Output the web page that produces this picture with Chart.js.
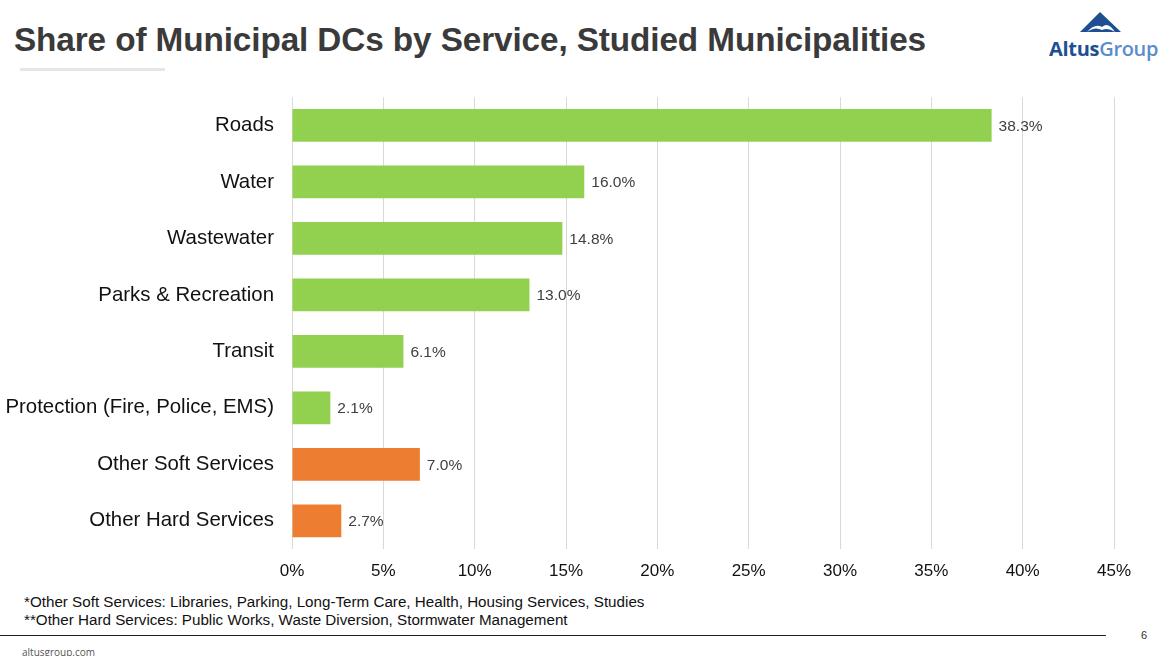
<!DOCTYPE html>
<html><head><meta charset="utf-8">
<script src="https://cdn.jsdelivr.net/npm/chart.js@4"></script>
<style>
html,body{margin:0;padding:0;background:#fff;width:1168px;height:656px;overflow:hidden;font-family:"Liberation Sans",Arial,sans-serif;}
#title{position:absolute;left:14px;top:21px;font-size:33.3px;font-weight:bold;color:#3a3a3a;white-space:nowrap;letter-spacing:-0.1px}
#uline{position:absolute;left:20px;top:68px;width:145px;height:3px;background:#e6e6e6}
#wrap{position:absolute;left:0;top:67px;width:1168px;height:523px}
.note{position:absolute;left:24px;font-size:15.2px;color:#111;white-space:nowrap}
#rule{position:absolute;left:0;top:635px;width:1106px;height:1px;background:#222}
#pg{position:absolute;left:1141px;top:629px;font-size:11px;color:#333}
#site{position:absolute;left:22px;top:645px;font-size:10px;color:#555;font-family:"Open Sans",sans-serif}
#logo{position:absolute;left:1040px;top:8px}
#logotext{position:absolute;left:1049px;top:35px;font-size:20px;white-space:nowrap;font-family:"Open Sans",sans-serif;letter-spacing:-0.3px}
</style></head><body>
<div id="title">Share of Municipal DCs by Service, Studied Municipalities</div>
<div id="uline"></div>
<svg id="logo" width="120" height="30" viewBox="0 0 120 30">
  <polygon points="60,4 40,24 81,24" fill="#1d4f91"/>
  <path d="M47,24 Q55,15 62,19 Q68,13 75,24 Q68,19 62,22 Q55,18 47,24 Z" fill="#fff"/>
</svg>
<div id="logotext"><span style="color:#1d4f91;font-weight:bold">Altus</span><span style="color:#5b8ccc;font-weight:600">Group</span></div>
<div id="wrap"><canvas id="c"></canvas></div>
<div class="note" style="top:593px">*Other Soft Services: Libraries, Parking, Long-Term Care, Health, Housing Services, Studies</div>
<div class="note" style="top:611px">**Other Hard Services: Public Works, Waste Diversion, Stormwater Management</div>
<div id="rule"></div>
<div id="pg">6</div>
<div id="site">altusgroup.com</div>
<script>
const categories = ["Roads","Water","Wastewater","Parks & Recreation","Transit","Protection (Fire, Police, EMS)","Other Soft Services","Other Hard Services"];
const shares = [38.3,16.0,14.8,13.0,6.1,2.1,7.0,2.7];
const barColors = ["#92d050","#92d050","#92d050","#92d050","#92d050","#92d050","#ed7d31","#ed7d31"];
const xTicks = [0,5,10,15,20,25,30,35,40,45];

const labelPlugin = {
  id:'vals',
  afterDatasetsDraw(chart){
    const ctx = chart.ctx;
    const meta = chart.getDatasetMeta(0);
    ctx.save();
    ctx.font = '15.5px "Liberation Sans", Arial, sans-serif';
    ctx.fillStyle = '#404040';
    ctx.textBaseline = 'middle';
    ctx.textAlign = 'left';
    meta.data.forEach((bar,i)=>{
      ctx.fillText(shares[i].toFixed(1)+'%', bar.x+7, bar.y+1);
    });
    ctx.restore();
  }
};

new Chart(document.getElementById('c'),{
  type:'bar',
  data:{labels:categories,datasets:[{data:shares,backgroundColor:barColors,barPercentage:0.58,categoryPercentage:1}]},
  options:{
    indexAxis:'y',responsive:true,maintainAspectRatio:false,animation:false,
    layout:{padding:{top:0,right:54,left:0,bottom:0}},
    plugins:{legend:{display:false},tooltip:{enabled:false}},
    scales:{
      x:{min:0,max:45,
        afterBuildTicks(s){s.ticks = xTicks.map(v=>({value:v}));},
        afterFit(s){s.height=41;},
        grid:{color:'#d9d9d9',lineWidth:1,drawTicks:false},
        border:{display:false},
        ticks:{padding:12,color:'#111',font:{size:17,family:'"Liberation Sans", Arial, sans-serif'},callback:v=>v+'%'}
      },
      y:{
        afterFit(s){s.width=292;},
        grid:{display:false,drawTicks:false},
        border:{display:false},
        ticks:{padding:18,color:'#111',font:{size:20.4,family:'"Liberation Sans", Arial, sans-serif'}}
      }
    }
  },
  plugins:[labelPlugin]
});
</script>
</body></html>
